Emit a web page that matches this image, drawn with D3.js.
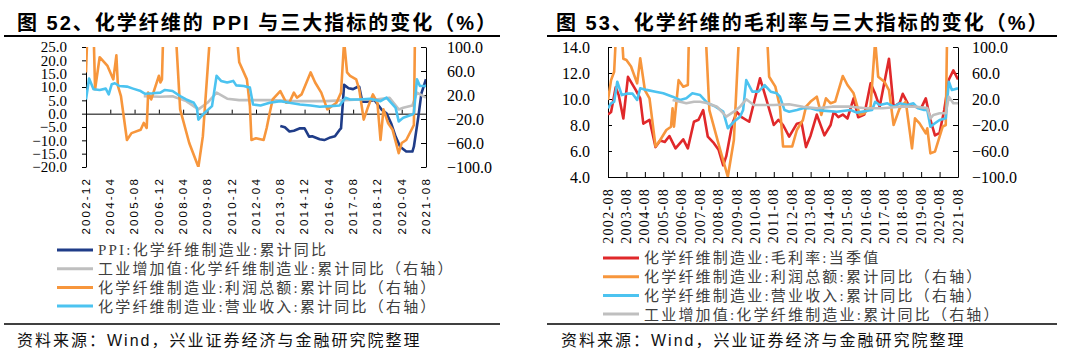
<!DOCTYPE html>
<html>
<head>
<meta charset="utf-8">
<script src="https://cdn.jsdelivr.net/npm/d3@7"></script>
<style>
    body { margin: 0; background: #fff; }
    svg { display: block; }
</style>
</head>
<body>
<svg id="chart" width="1067" height="362"></svg>
<script>
(function() {

    // ---- data: left chart (图52) ----
    var leftXLabels = ['2002-12', '2004-04', '2005-08', '2006-12', '2008-04', '2009-08', '2010-12',
        '2012-04', '2013-08', '2014-12', '2016-04', '2017-08', '2018-12', '2020-04', '2021-08'];
    var leftYTicks = [25, 20, 15, 10, 5, 0, -5, -10, -15, -20];
    var rightYTicks = [100, 60, 20, -20, -60, -100];

    var ppiA = [['2013-08', -4.6], ['2013-11', -5.1], ['2014-02', -6.7], ['2014-05', -6.4], ['2014-09', -5.5],
        ['2014-12', -5.5], ['2015-03', -8.6], ['2015-05', -8.5], ['2015-10', -9.6], ['2016-01', -9.9],
        ['2016-05', -8.9], ['2016-08', -8.5], ['2016-11', -6.1], ['2016-12', -5.5], ['2017-02', 10.8],
        ['2017-05', 9.5], ['2017-08', 9.2], ['2017-11', 10.1], ['2017-12', 10.1], ['2018-02', 4.5],
        ['2018-05', 4.5], ['2018-10', 5.1], ['2019-03', 1.4], ['2019-06', 0.1], ['2019-09', -3.6],
        ['2019-12', -8.6], ['2020-03', -12.4], ['2020-07', -14.2], ['2020-11', -14.2], ['2020-12', -12.4],
        ['2021-03', -1.1], ['2021-05', 7.6], ['2021-08', 12.9]];

    var valueAddA = [['2006-02', 18], ['2007-01', 17], ['2007-09', 18], ['2008-06', 9.8], ['2009-02', -4],
        ['2009-08', 7], ['2010-02', 24], ['2010-09', 13.8], ['2011-05', 11.5], ['2013-01', 11.5],
        ['2014-05', 9.8], ['2016-02', 9.8], ['2017-12', 12.6], ['2018-11', 12.6], ['2019-08', 15.5],
        ['2020-02', -4], ['2020-05', -1.4], ['2020-11', 2.5], ['2021-02', 24], ['2021-08', 15.5]];

    var profitA = [['2002-12', 57.7], ['2003-01', 130], ['2003-05', 130], ['2003-06', 29.5], ['2003-09', 83],
        ['2004-02', 69], ['2004-06', 46], ['2004-08', 86], ['2004-09', 35], ['2004-11', 18], ['2005-03', -55],
        ['2005-06', -43.5], ['2005-12', -38], ['2006-02', -26.6], ['2006-04', -35], ['2006-05', 24],
        ['2006-07', 12.6], ['2006-12', 52], ['2007-01', 40.8], ['2007-02', 46], ['2007-03', 130],
        ['2007-11', 130], ['2008-02', -4], ['2008-08', -60], ['2009-02', -100], ['2009-05', -49],
        ['2009-10', 130], ['2011-03', 130], ['2011-05', 74.5], ['2011-10', 46], ['2011-12', 1.4],
        ['2012-01', -55], ['2012-04', -52], ['2012-09', -55], ['2012-11', -35], ['2013-01', -10],
        ['2013-03', 12.6], ['2013-08', 26.6], ['2013-12', 7], ['2014-02', 8], ['2014-05', 24],
        ['2014-07', 15.5], ['2014-10', 21], ['2015-04', 57.7], ['2015-07', 40.8], ['2015-11', 24],
        ['2016-03', -4], ['2016-09', 7], ['2016-12', 24], ['2017-02', 110], ['2017-04', 57.7],
        ['2017-06', 52], ['2017-10', 46], ['2017-12', 29.5], ['2018-03', -21], ['2018-06', 1.4],
        ['2018-09', 21], ['2018-12', 7], ['2019-02', -55], ['2019-04', -4], ['2019-07', -26.6],
        ['2019-10', -38], ['2020-02', -77], ['2020-04', -60], ['2020-07', -55], ['2020-11', -35],
        ['2020-12', -30], ['2021-02', 400], ['2021-08', 250]];

    var revenueA = [['2002-12', 12.6], ['2003-02', 47.5], ['2003-05', 29.5], ['2003-09', 28.4], ['2004-01', 30.6],
        ['2004-03', 21], ['2004-05', 38], ['2004-07', 39.6], ['2004-10', 35], ['2005-03', 34], ['2005-07', 30.6],
        ['2005-12', 26.6], ['2006-03', 22], ['2006-08', 22.8], ['2007-01', 24], ['2007-04', 28.4],
        ['2007-09', 26.6], ['2008-02', 18], ['2008-06', 12.6], ['2008-11', 7], ['2009-01', -1.4],
        ['2009-02', -21], ['2009-05', -12.6], ['2009-11', 1.4], ['2010-02', 52], ['2010-05', 43.5],
        ['2010-09', 40.8], ['2011-01', 43.5], ['2011-03', 36], ['2011-08', 35], ['2011-12', 32.3],
        ['2012-02', 4.2], ['2012-07', 2.5], ['2013-01', 7], ['2013-08', 9.8], ['2014-02', 7], ['2014-09', 4.2],
        ['2015-04', 2.5], ['2015-10', 0.3], ['2016-05', 1.4], ['2016-11', 2.5], ['2017-03', 15.5],
        ['2017-06', 12.6], ['2017-12', 12.6], ['2018-07', 13.8], ['2019-02', 9.8], ['2019-06', 15.5],
        ['2019-11', 1.4], ['2019-12', -1.4], ['2020-02', -24], ['2020-05', -18], ['2020-11', -12.6],
        ['2020-12', -9.8], ['2021-02', 46], ['2021-04', 35], ['2021-08', 35]];

    // ---- data: right chart (图53) ----
    var rightXLabels = ['2002-08', '2003-08', '2004-08', '2005-08', '2006-08', '2007-08', '2008-08',
        '2009-08', '2010-08', '2011-08', '2012-08', '2013-08', '2014-08', '2015-08', '2016-08',
        '2017-08', '2018-08', '2019-08', '2020-08', '2021-08'];
    var marginYTicks = [14, 12, 10, 8, 6, 4];

    var marginB = [['2002-08', 8.8], ['2002-10', 9.0], ['2003-01', 10.9], ['2003-03', 10.3], ['2003-06', 8.5],
        ['2003-09', 11.7], ['2004-02', 10.7], ['2004-05', 10.05], ['2004-07', 8.1], ['2004-11', 8.4],
        ['2005-03', 6.3], ['2005-06', 6.8], ['2005-09', 6.7], ['2005-12', 7.15], ['2006-04', 6.2],
        ['2006-09', 6.9], ['2006-12', 6.2], ['2007-04', 8.25], ['2007-07', 8.4], ['2007-10', 9.15],
        ['2008-01', 7.1], ['2008-05', 6.6], ['2008-08', 6.1], ['2008-11', 4.9], ['2009-01', 5.6],
        ['2009-05', 8.1], ['2009-08', 9.0], ['2009-11', 8.6], ['2010-04', 8.25], ['2010-11', 11.6],
        ['2011-03', 10.05], ['2011-08', 8.0], ['2011-11', 8.4], ['2012-02', 8.0], ['2012-06', 7.1],
        ['2012-11', 8.1], ['2013-02', 8.2], ['2013-05', 6.3], ['2013-08', 7.2], ['2013-12', 8.8],
        ['2014-05', 7.2], ['2014-09', 8.0], ['2014-11', 9.0], ['2015-02', 8.6], ['2015-05', 8.8],
        ['2015-08', 8.5], ['2015-12', 10.05], ['2016-03', 8.6], ['2016-07', 8.8], ['2016-11', 11.2],
        ['2017-02', 10.4], ['2017-05', 9.4], ['2017-11', 13.1], ['2018-02', 9.4], ['2018-06', 9.7],
        ['2018-08', 10.4], ['2018-12', 9.5], ['2019-04', 9.4], ['2019-08', 9.3], ['2019-11', 10.05],
        ['2020-02', 8.4], ['2020-05', 7.2], ['2020-08', 7.4], ['2020-11', 9.15], ['2021-02', 11.5],
        ['2021-05', 12.2], ['2021-08', 11.5]];

    var profitB = [['2002-08', 18.5], ['2002-10', 49], ['2002-12', 62], ['2003-02', 160], ['2003-04', 160],
        ['2003-06', 82], ['2003-08', 80], ['2003-11', 70], ['2004-03', 44], ['2004-05', 82.6], ['2004-08', 33.8],
        ['2004-11', 21], ['2005-03', -53], ['2005-06', -43], ['2005-10', -27.7], ['2006-01', -22.6],
        ['2006-02', 5.7], ['2006-03', -22.6], ['2006-06', 49], ['2006-09', 39], ['2006-12', 41.5],
        ['2007-01', 150], ['2007-11', 150], ['2008-02', 3], ['2008-09', -58], ['2009-02', -99.5],
        ['2009-06', -43], ['2009-10', 150], ['2011-03', 150], ['2011-05', 54.3], ['2011-09', 39],
        ['2011-12', 8.2], ['2012-02', -53], ['2012-08', -53], ['2012-11', -27.7], ['2013-03', -12.3],
        ['2013-05', 8.2], ['2013-08', 16], ['2013-12', 23.6], ['2014-03', -4.6], ['2014-06', 21],
        ['2014-09', 13.4], ['2014-12', 16], ['2015-05', 55.4], ['2015-08', 41.5], ['2015-12', 28.7],
        ['2016-04', -4.6], ['2016-07', -2], ['2016-11', 8.2], ['2017-02', 110], ['2017-04', 54.3],
        ['2017-08', 46.6], ['2017-11', 33.8], ['2018-02', -20], ['2018-06', 5.7], ['2018-10', 15.8],
        ['2019-02', -56], ['2019-04', -9.7], ['2019-07', -17.4], ['2019-11', -32.8], ['2019-12', -25],
        ['2020-02', -63.6], ['2020-05', -61], ['2020-08', -38], ['2020-10', -22.6], ['2020-12', -20],
        ['2021-02', 300], ['2021-08', 250]];

    var revenueB = [['2002-08', 5.7], ['2002-10', 13.4], ['2002-12', 15.8], ['2003-02', 46.6], ['2003-05', 26],
        ['2003-08', 28.2], ['2003-12', 28.2], ['2004-03', 18.5], ['2004-05', 36.4], ['2004-09', 34],
        ['2005-03', 31.3], ['2005-08', 28.7], ['2006-02', 23.6], ['2006-07', 18.5], ['2006-11', 21],
        ['2007-03', 28.7], ['2007-08', 26], ['2008-01', 13.4], ['2008-06', 8.2], ['2008-11', 0.5],
        ['2009-02', -25], ['2009-06', -15], ['2009-10', -7.2], ['2009-12', 3], ['2010-02', 49],
        ['2010-06', 31.3], ['2010-10', 31.3], ['2011-02', 41.5], ['2011-06', 31.3], ['2011-10', 28.7],
        ['2011-12', 23.6], ['2012-03', 3], ['2012-06', 0.5], ['2012-11', 3], ['2013-03', 5.7],
        ['2013-08', 5.7], ['2013-12', 3], ['2014-04', 2.1], ['2015-01', 0.5], ['2015-10', 3],
        ['2016-02', -1], ['2016-09', 2], ['2016-12', 3], ['2017-02', 15.8], ['2017-05', 10.8],
        ['2017-10', 13.4], ['2018-02', 8.2], ['2018-06', 13.4], ['2018-11', 10.8], ['2019-03', 13.4],
        ['2019-06', 5.7], ['2019-10', 3], ['2019-12', 3], ['2020-02', -22.6], ['2020-05', -17.4],
        ['2020-08', -12.3], ['2020-12', -9.7], ['2021-02', 46.6], ['2021-04', 33.8], ['2021-08', 36.4]];

    var valueAddB = [['2006-02', 18.5], ['2006-07', 15.8], ['2006-11', 13.4], ['2007-04', 15.8], ['2007-08', 15.8],
        ['2008-01', 13.4], ['2008-07', 8.2], ['2009-01', -7.2], ['2009-06', 0.5], ['2009-10', 8.2],
        ['2010-02', 19.5], ['2010-07', 10.8], ['2011-08', 10.8], ['2012-06', 12], ['2013-03', 8.2],
        ['2013-12', 5.7], ['2014-10', 8.2], ['2015-10', 8.2], ['2016-08', 5.7], ['2017-07', 5.7],
        ['2018-06', 8.2], ['2019-05', 8.2], ['2019-12', 6], ['2020-02', -9.7], ['2020-04', -4.6],
        ['2020-08', -2], ['2020-12', -2], ['2021-02', 23.6], ['2021-05', 13.4], ['2021-08', 13.4]];

    var legendA = [
        {name: 'PPI:化学纤维制造业:累计同比', color: '#1f3c88'},
        {name: '工业增加值:化学纤维制造业:累计同比（右轴）', color: '#bfbfbf'},
        {name: '化学纤维制造业:利润总额:累计同比（右轴）', color: '#f7963c'},
        {name: '化学纤维制造业:营业收入:累计同比（右轴）', color: '#4cc3f0'}
    ];
    var legendB = [
        {name: '化学纤维制造业:毛利率:当季值', color: '#e0282a'},
        {name: '化学纤维制造业:利润总额:累计同比（右轴）', color: '#f7963c'},
        {name: '化学纤维制造业:营业收入:累计同比（右轴）', color: '#4cc3f0'},
        {name: '工业增加值:化学纤维制造业:累计同比（右轴）', color: '#bfbfbf'}
    ];

    var parseMonth = d3.timeParse('%Y-%m'),
        fmt1 = d3.format('.1f'),
        serif = '"Liberation Serif", "Times New Roman", "Noto Sans CJK SC", serif',
        sans = '"Liberation Sans", Arial, "Noto Sans CJK SC", sans-serif';

    var svg = d3.select('#chart');

    function drawLine(g, x, y, data, color, clipId) {
        g.append('path')
            .datum(data)
            .attr('clip-path', 'url(#' + clipId + ')')
            .attr('fill', 'none')
            .attr('stroke', color)
            .attr('stroke-width', 2.6)
            .attr('stroke-linejoin', 'round')
            .attr('d', d3.line()
                .x(function(d) { return x(parseMonth(d[0])); })
                .y(function(d) { return y(d[1]); }));
    }

    function styleAxis(sel, family, size) {
        sel.attr('font-family', family).attr('font-size', size);
        sel.selectAll('path, line').attr('stroke', '#000');
        sel.selectAll('text').attr('fill', '#000');
    }

    function frame(p) {
        var g = svg.append('g');
        g.append('text')
            .attr('x', p.titleX).attr('y', 30)
            .attr('font-family', sans).attr('font-weight', 'bold')
            .attr('font-size', 20).attr('letter-spacing', 2)
            .attr('fill', '#000')
            .text(p.title);
        g.append('line')
            .attr('x1', p.ruleX0).attr('x2', p.ruleX1).attr('y1', 36).attr('y2', 36)
            .attr('stroke', '#000').attr('stroke-width', 2);
        g.append('line')
            .attr('x1', p.ruleX0).attr('x2', p.ruleX1).attr('y1', 324).attr('y2', 324)
            .attr('stroke', '#000').attr('stroke-width', 1.3);
        g.append('text')
            .attr('x', p.sourceX).attr('y', 340).attr('dy', '0.36em')
            .attr('font-family', sans).attr('font-size', 16).attr('letter-spacing', 2)
            .attr('fill', '#111')
            .text('资料来源：Wind，兴业证券经济与金融研究院整理');

        var lg = g.selectAll('g.legend')
            .data(p.legend)
            .enter()
            .append('g')
            .attr('transform', function(d, i) { return 'translate(0,' + (p.legendY + i * 18.7) + ')'; });
        lg.append('line')
            .attr('x1', p.legendX).attr('x2', p.legendX + 36)
            .attr('stroke', function(d) { return d.color; })
            .attr('stroke-width', 3);
        lg.append('text')
            .attr('x', p.legendX + 41).attr('dy', '0.36em')
            .attr('font-family', serif).attr('font-size', 15).attr('letter-spacing', 2.2)
            .attr('fill', '#404040')
            .text(function(d) { return d.name; });
    }

    // ---------- left panel ----------
    var A = {left: 86, right: 426, top: 47, bottom: 167};
    frame({title: '图 52、化学纤维的 PPI 与三大指标的变化（%）', titleX: 17, ruleX0: 4, ruleX1: 500,
        sourceX: 17, legend: legendA, legendX: 57, legendY: 250});

    var xA = d3.scaleTime()
        .domain([parseMonth('2002-12'), parseMonth('2021-08')])
        .range([A.left, A.right]);
    var yAL = d3.scaleLinear().domain([-20, 25]).range([A.bottom, A.top]);
    var yAR = d3.scaleLinear().domain([-100, 100]).range([A.bottom, A.top]);

    svg.append('clipPath').attr('id', 'clipA')
        .append('rect')
        .attr('x', A.left).attr('y', A.top)
        .attr('width', A.right - A.left).attr('height', A.bottom - A.top);

    var gA = svg.append('g');
    styleAxis(gA.append('g')
        .attr('transform', 'translate(' + A.left + ',0)')
        .call(d3.axisLeft(yAL).tickValues(leftYTicks).tickFormat(fmt1).tickSize(4).tickSizeOuter(0).tickPadding(15)),
        serif, 15);
    styleAxis(gA.append('g')
        .attr('transform', 'translate(' + A.right + ',0)')
        .call(d3.axisRight(yAR).tickValues(rightYTicks).tickFormat(fmt1).tickSize(-5).tickSizeOuter(0).tickPadding(21)),
        serif, 16);
    styleAxis(gA.append('g')
        .attr('transform', 'translate(0,' + yAL(0) + ')')
        .call(d3.axisTop(xA).tickValues(leftXLabels.map(parseMonth)).tickFormat('').tickSize(4).tickSizeOuter(0)),
        serif, 12);

    gA.selectAll('text.xlab')
        .data(leftXLabels)
        .enter()
        .append('text')
        .attr('class', 'xlab')
        .attr('transform', function(d) { return 'translate(' + xA(parseMonth(d)) + ',177) rotate(-90)'; })
        .attr('text-anchor', 'end')
        .attr('dy', '0.33em')
        .attr('font-family', sans).attr('font-size', 11.5).attr('letter-spacing', 2.2)
        .attr('fill', '#000')
        .text(function(d) { return d; });

    drawLine(gA, xA, yAL, ppiA, legendA[0].color, 'clipA');
    drawLine(gA, xA, yAR, valueAddA, legendA[1].color, 'clipA');
    drawLine(gA, xA, yAR, profitA, legendA[2].color, 'clipA');
    drawLine(gA, xA, yAR, revenueA, legendA[3].color, 'clipA');

    // ---------- right panel ----------
    var B = {left: 608, right: 958, top: 47, bottom: 177};
    frame({title: '图 53、化学纤维的毛利率与三大指标的变化（%）', titleX: 556, ruleX0: 547, ruleX1: 1057,
        sourceX: 561, legend: legendB, legendX: 603, legendY: 258});

    var xB = d3.scaleTime()
        .domain([parseMonth('2002-08'), parseMonth('2021-08')])
        .range([B.left, B.right]);
    var yBL = d3.scaleLinear().domain([4, 14]).range([B.bottom, B.top]);
    var yBR = d3.scaleLinear().domain([-100, 100]).range([B.bottom, B.top]);

    svg.append('clipPath').attr('id', 'clipB')
        .append('rect')
        .attr('x', B.left).attr('y', B.top)
        .attr('width', B.right - B.left).attr('height', B.bottom - B.top);

    var gB = svg.append('g');
    styleAxis(gB.append('g')
        .attr('transform', 'translate(' + B.left + ',0)')
        .call(d3.axisLeft(yBL).tickValues(marginYTicks).tickFormat(fmt1).tickSize(-4).tickSizeOuter(0).tickPadding(18)),
        serif, 16);
    styleAxis(gB.append('g')
        .attr('transform', 'translate(' + B.right + ',0)')
        .call(d3.axisRight(yBR).tickValues(rightYTicks).tickFormat(fmt1).tickSize(-5).tickSizeOuter(0).tickPadding(14)),
        serif, 16);
    styleAxis(gB.append('g')
        .attr('transform', 'translate(0,' + B.bottom + ')')
        .call(d3.axisTop(xB).tickValues(rightXLabels.map(parseMonth)).tickFormat('').tickSize(5).tickSizeOuter(0)),
        serif, 12);

    gB.selectAll('text.xlab')
        .data(rightXLabels)
        .enter()
        .append('text')
        .attr('class', 'xlab')
        .attr('transform', function(d) { return 'translate(' + xB(parseMonth(d)) + ',188) rotate(-90)'; })
        .attr('text-anchor', 'end')
        .attr('dy', '0.33em')
        .attr('font-family', serif).attr('font-size', 14).attr('letter-spacing', 1.3)
        .attr('fill', '#000')
        .text(function(d) { return d; });

    drawLine(gB, xB, yBL, marginB, legendB[0].color, 'clipB');
    drawLine(gB, xB, yBR, profitB, legendB[1].color, 'clipB');
    drawLine(gB, xB, yBR, revenueB, legendB[2].color, 'clipB');
    drawLine(gB, xB, yBR, valueAddB, legendB[3].color, 'clipB');

})();
</script>
</body>
</html>
